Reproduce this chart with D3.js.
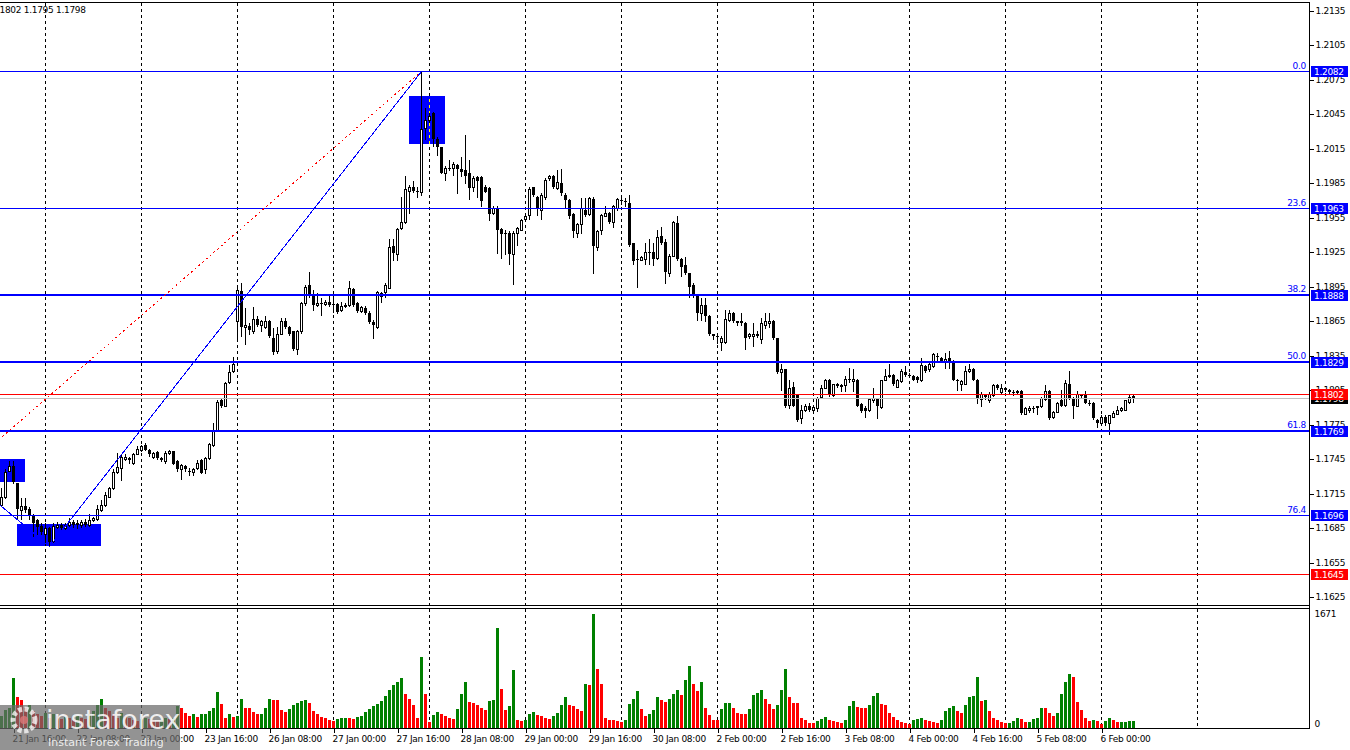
<!DOCTYPE html>
<html><head><meta charset="utf-8">
<script src="https://cdn.jsdelivr.net/npm/d3@7"></script>
<style>
html,body{margin:0;padding:0;background:#fff;overflow:hidden;}
svg{display:block;}
text{font-family:"DejaVu Sans",Verdana,sans-serif;}
</style></head><body>
<svg id="c" width="1350" height="750"></svg>
<script>
// ---------- DATA (EURUSD H1, bar index 0 = 21 Jan 13:00) ----------
const opens=[1.1705,1.1712,1.1735,1.1739,1.1724,1.1701,1.1704,1.1702,1.1696,1.1692,
1.1687,1.1680,1.1685,1.1674,1.1686,1.1688,1.1685,1.1688,1.1690,1.1689,
1.1688,1.1690,1.1688,1.1692,1.1693,1.1701,1.1705,1.1712,1.1720,1.1734,
1.1737,1.1745,1.1746,1.1742,1.1749,1.1753,1.1757,1.1753,1.1747,1.1751,
1.1746,1.1743,1.1750,1.1752,1.1743,1.1736,1.1739,1.1735,1.1734,1.1737,
1.1744,1.1736,1.1746,1.1757,1.1770,1.1796,1.1791,1.1812,1.1822,1.1865,
1.1891,1.1860,1.1861,1.1856,1.1867,1.1862,1.1860,1.1865,1.1850,1.1839,
1.1854,1.1865,1.1860,1.1856,1.1841,1.1856,1.1881,1.1896,1.1887,1.1879,
1.1881,1.1880,1.1882,1.1880,1.1880,1.1875,1.1878,1.1879,1.1893,1.1881,
1.1874,1.1876,1.1872,1.1864,1.1860,1.1889,1.1890,1.1894,1.1930,1.1923,
1.1946,1.1951,1.1978,1.1982,1.1978,1.1977,1.2033,1.2040,1.2046,1.2023,
1.2016,1.1994,1.1998,1.1998,1.2001,1.1997,1.1996,1.1994,1.1982,1.1990,
1.1990,1.1982,1.1981,1.1959,1.1963,1.1945,1.1942,1.1942,1.1923,1.1942,
1.1944,1.1954,1.1957,1.1982,1.1973,1.1962,1.1973,1.1989,1.1991,1.1981,
1.1985,1.1975,1.1970,1.1958,1.1942,1.1949,1.1962,1.1958,1.1971,1.1929,
1.1944,1.1956,1.1959,1.1951,1.1963,1.1970,1.1969,1.1968,1.1933,1.1919,
1.1918,1.1919,1.1925,1.1925,1.1920,1.1939,1.1934,1.1907,1.1922,1.1950,
1.1919,1.1914,1.1907,1.1896,1.1887,1.1872,1.1879,1.1869,1.1854,1.1852,
1.1847,1.1847,1.1866,1.1872,1.1865,1.1865,1.1863,1.1852,1.1852,1.1854,
1.1849,1.1862,1.1863,1.1865,1.1850,1.1821,1.1823,1.1792,1.1808,1.1801,
1.1781,1.1788,1.1791,1.1788,1.1789,1.1799,1.1807,1.1814,1.1801,1.1809,
1.1809,1.1809,1.1815,1.1813,1.1814,1.1793,1.1789,1.1788,1.1796,1.1797,
1.1790,1.1814,1.1817,1.1818,1.1808,1.1813,1.1821,1.1818,1.1817,1.1816,
1.1814,1.1826,1.1823,1.1826,1.1835,1.1833,1.1830,1.1833,1.1830,1.1814,
1.1810,1.1810,1.1822,1.1823,1.1814,1.1797,1.1801,1.1796,1.1801,1.1809,
1.1803,1.1807,1.1805,1.1803,1.1803,1.1804,1.1784,1.1788,1.1789,1.1790,
1.1791,1.1797,1.1804,1.1782,1.1786,1.1796,1.1792,1.1810,1.1798,1.1791,
1.1801,1.1802,1.1794,1.1794,1.1779,1.1776,1.1782,1.1776,1.1782,1.1784,
1.1788,1.1788,1.1795,1.1800];
const highs=[1.1720,1.1736,1.1743,1.1743,1.1724,1.1711,1.1711,1.1703,1.1697,1.1693,
1.1689,1.1689,1.1686,1.1689,1.1690,1.1689,1.1689,1.1694,1.1692,1.1692,
1.1692,1.1693,1.1697,1.1695,1.1705,1.1709,1.1716,1.1721,1.1736,1.1750,
1.1749,1.1749,1.1747,1.1750,1.1756,1.1757,1.1759,1.1754,1.1751,1.1752,
1.1747,1.1752,1.1753,1.1752,1.1744,1.1741,1.1740,1.1737,1.1737,1.1744,
1.1745,1.1747,1.1759,1.1776,1.1796,1.1797,1.1812,1.1827,1.1834,1.1896,
1.1898,1.1876,1.1863,1.1877,1.1869,1.1866,1.1869,1.1866,1.1859,1.1860,
1.1868,1.1868,1.1861,1.1856,1.1857,1.1882,1.1896,1.1908,1.1892,1.1889,
1.1885,1.1883,1.1888,1.1888,1.1881,1.1882,1.1881,1.1900,1.1894,1.1882,
1.1878,1.1878,1.1874,1.1866,1.1891,1.1890,1.1898,1.1936,1.1936,1.1946,
1.1973,1.1991,1.1983,1.1987,1.1982,1.2082,1.2050,1.2046,1.2047,1.2025,
1.2016,1.2000,1.2005,1.2003,1.2002,1.2008,1.2027,1.2005,1.1991,1.1991,
1.1991,1.1983,1.1982,1.1965,1.1965,1.1946,1.1944,1.1943,1.1943,1.1947,
1.1954,1.1957,1.1982,1.1982,1.1974,1.1976,1.1989,1.1992,1.1992,1.1996,
1.1997,1.1976,1.1971,1.1959,1.1950,1.1972,1.1972,1.1973,1.1973,1.1944,
1.1958,1.1965,1.1960,1.1966,1.1972,1.1972,1.1972,1.1975,1.1933,1.1927,
1.1922,1.1933,1.1936,1.1933,1.1944,1.1947,1.1936,1.1923,1.1952,1.1956,
1.1920,1.1921,1.1907,1.1898,1.1888,1.1885,1.1885,1.1870,1.1854,1.1854,
1.1852,1.1875,1.1875,1.1873,1.1865,1.1872,1.1864,1.1855,1.1863,1.1856,
1.1868,1.1872,1.1872,1.1866,1.1850,1.1828,1.1823,1.1814,1.1812,1.1802,
1.1792,1.1793,1.1794,1.1791,1.1799,1.1809,1.1815,1.1815,1.1810,1.1811,
1.1810,1.1817,1.1824,1.1823,1.1815,1.1794,1.1791,1.1798,1.1807,1.1798,
1.1814,1.1823,1.1828,1.1819,1.1815,1.1823,1.1826,1.1820,1.1818,1.1817,
1.1833,1.1827,1.1830,1.1837,1.1837,1.1834,1.1837,1.1839,1.1831,1.1815,
1.1814,1.1826,1.1828,1.1824,1.1815,1.1803,1.1802,1.1803,1.1810,1.1810,
1.1810,1.1808,1.1806,1.1805,1.1805,1.1805,1.1790,1.1791,1.1791,1.1791,
1.1799,1.1809,1.1805,1.1787,1.1795,1.1805,1.1814,1.1822,1.1799,1.1804,
1.1802,1.1804,1.1796,1.1795,1.1780,1.1783,1.1783,1.1783,1.1787,1.1791,
1.1790,1.1796,1.1801,1.1802];
const lows=[1.1704,1.1711,1.1735,1.1724,1.1693,1.1693,1.1699,1.1693,1.1678,1.1680,
1.1680,1.1670,1.1669,1.1673,1.1685,1.1683,1.1684,1.1687,1.1686,1.1685,
1.1686,1.1687,1.1687,1.1691,1.1692,1.1700,1.1704,1.1712,1.1719,1.1733,
1.1727,1.1744,1.1742,1.1741,1.1749,1.1752,1.1753,1.1748,1.1746,1.1745,
1.1743,1.1742,1.1749,1.1741,1.1735,1.1728,1.1735,1.1731,1.1731,1.1736,
1.1733,1.1733,1.1745,1.1756,1.1770,1.1790,1.1791,1.1811,1.1821,1.1849,
1.1852,1.1845,1.1854,1.1855,1.1861,1.1856,1.1859,1.1851,1.1836,1.1837,
1.1854,1.1859,1.1853,1.1840,1.1836,1.1855,1.1879,1.1886,1.1875,1.1878,
1.1870,1.1879,1.1878,1.1873,1.1872,1.1874,1.1877,1.1878,1.1878,1.1873,
1.1873,1.1871,1.1863,1.1850,1.1859,1.1882,1.1886,1.1894,1.1918,1.1918,
1.1945,1.1950,1.1959,1.1977,1.1973,1.1975,1.2023,1.2038,1.2017,1.2009,
1.1994,1.1988,1.1996,1.1992,1.1976,1.1991,1.1985,1.1971,1.1978,1.1973,
1.1965,1.1977,1.1953,1.1958,1.1924,1.1920,1.1923,1.1915,1.1897,1.1931,
1.1944,1.1953,1.1954,1.1974,1.1957,1.1954,1.1971,1.1988,1.1981,1.1980,
1.1975,1.1963,1.1955,1.1938,1.1938,1.1942,1.1956,1.1957,1.1907,1.1927,
1.1941,1.1956,1.1950,1.1947,1.1962,1.1967,1.1965,1.1930,1.1915,1.1895,
1.1918,1.1915,1.1915,1.1914,1.1919,1.1932,1.1898,1.1904,1.1922,1.1918,
1.1904,1.1906,1.1886,1.1886,1.1866,1.1866,1.1865,1.1853,1.1849,1.1846,
1.1840,1.1846,1.1865,1.1864,1.1862,1.1862,1.1841,1.1850,1.1843,1.1851,
1.1846,1.1859,1.1860,1.1849,1.1820,1.1805,1.1790,1.1789,1.1791,1.1778,
1.1776,1.1787,1.1787,1.1786,1.1787,1.1798,1.1807,1.1800,1.1800,1.1808,
1.1804,1.1804,1.1812,1.1804,1.1791,1.1786,1.1782,1.1787,1.1795,1.1781,
1.1789,1.1814,1.1816,1.1809,1.1808,1.1812,1.1817,1.1816,1.1814,1.1812,
1.1813,1.1821,1.1822,1.1825,1.1831,1.1830,1.1824,1.1824,1.1814,1.1805,
1.1805,1.1810,1.1821,1.1814,1.1794,1.1791,1.1797,1.1795,1.1800,1.1806,
1.1802,1.1804,1.1802,1.1801,1.1802,1.1784,1.1784,1.1786,1.1786,1.1784,
1.1790,1.1796,1.1780,1.1781,1.1786,1.1791,1.1791,1.1797,1.1781,1.1791,
1.1799,1.1794,1.1792,1.1780,1.1773,1.1775,1.1775,1.1767,1.1782,1.1784,
1.1787,1.1788,1.1794,1.1795];
const closes=[1.1712,1.1734,1.1739,1.1725,1.1702,1.1704,1.1701,1.1696,1.1689,1.1686,
1.1682,1.1685,1.1673,1.1687,1.1688,1.1685,1.1688,1.1690,1.1688,1.1688,
1.1690,1.1688,1.1692,1.1694,1.1702,1.1705,1.1714,1.1720,1.1734,1.1738,
1.1747,1.1747,1.1744,1.1749,1.1754,1.1756,1.1753,1.1749,1.1750,1.1746,
1.1744,1.1750,1.1752,1.1741,1.1736,1.1740,1.1736,1.1734,1.1736,1.1742,
1.1733,1.1746,1.1758,1.1770,1.1795,1.1791,1.1811,1.1821,1.1828,1.1892,
1.1860,1.1862,1.1857,1.1867,1.1862,1.1865,1.1865,1.1852,1.1838,1.1854,
1.1865,1.1860,1.1854,1.1841,1.1856,1.1881,1.1895,1.1887,1.1879,1.1881,
1.1880,1.1882,1.1879,1.1880,1.1873,1.1878,1.1879,1.1894,1.1879,1.1874,
1.1877,1.1872,1.1864,1.1862,1.1890,1.1886,1.1896,1.1929,1.1924,1.1945,
1.1951,1.1980,1.1982,1.1978,1.1977,1.2032,1.2040,1.2043,1.2023,1.2016,
1.1994,1.1998,1.1997,1.2002,1.1997,1.1995,1.1991,1.1981,1.1989,1.1987,
1.1969,1.1977,1.1958,1.1963,1.1944,1.1941,1.1941,1.1923,1.1942,1.1946,
1.1953,1.1956,1.1980,1.1975,1.1963,1.1975,1.1988,1.1991,1.1982,1.1986,
1.1976,1.1970,1.1956,1.1943,1.1949,1.1963,1.1957,1.1972,1.1930,1.1943,
1.1957,1.1959,1.1951,1.1965,1.1971,1.1969,1.1969,1.1931,1.1917,1.1919,
1.1921,1.1925,1.1924,1.1919,1.1938,1.1933,1.1908,1.1922,1.1951,1.1919,
1.1912,1.1907,1.1895,1.1888,1.1872,1.1879,1.1869,1.1854,1.1852,1.1852,
1.1850,1.1867,1.1872,1.1865,1.1863,1.1863,1.1850,1.1854,1.1854,1.1852,
1.1863,1.1865,1.1865,1.1850,1.1821,1.1823,1.1791,1.1807,1.1791,1.1779,
1.1788,1.1791,1.1788,1.1790,1.1798,1.1807,1.1814,1.1801,1.1810,1.1810,
1.1808,1.1815,1.1814,1.1815,1.1791,1.1787,1.1787,1.1797,1.1798,1.1791,
1.1814,1.1817,1.1818,1.1810,1.1814,1.1822,1.1818,1.1817,1.1814,1.1814,
1.1827,1.1822,1.1828,1.1836,1.1834,1.1830,1.1832,1.1830,1.1814,1.1814,
1.1813,1.1822,1.1823,1.1814,1.1797,1.1802,1.1799,1.1802,1.1809,1.1807,
1.1807,1.1805,1.1803,1.1803,1.1804,1.1785,1.1789,1.1789,1.1789,1.1791,
1.1798,1.1804,1.1781,1.1786,1.1794,1.1791,1.1811,1.1798,1.1791,1.1802,
1.1800,1.1794,1.1794,1.1781,1.1776,1.1782,1.1776,1.1783,1.1785,1.1788,
1.1789,1.1796,1.1799,1.1798];
const volumes=[180,260,300,730,456,407,300,330,250,200,
180,220,150,200,170,130,160,140,120,170,
140,130,200,250,330,420,300,250,200,150,
220,180,150,120,100,130,150,130,110,100,
120,140,130,150,320,300,220,175,200,160,
200,210,250,300,535,355,150,200,160,170,
420,300,290,230,200,210,290,420,415,405,
260,230,280,330,370,400,410,360,250,200,
160,140,120,100,130,140,150,140,130,160,
170,230,280,320,350,400,470,558,633,667,
730,505,420,340,150,1044,495,90,190,230,
200,170,150,130,280,505,676,374,365,340,
300,260,390,410,1466,569,260,320,848,120,
100,120,200,230,190,170,150,130,170,220,
340,460,340,320,280,250,640,625,1671,863,
642,140,120,110,100,90,110,350,420,540,
280,180,200,270,450,410,380,430,500,560,
490,710,907,650,540,680,300,190,120,110,
280,360,370,290,220,210,200,280,480,520,
555,420,350,280,340,555,863,455,370,365,
140,110,80,70,100,130,160,110,100,90,
70,120,320,400,310,300,290,330,470,510,
350,330,220,160,110,90,80,60,110,130,
150,110,100,90,80,110,250,300,320,250,
220,330,450,465,745,400,410,250,150,110,
90,70,79,104,150,125,94,94,125,150,
300,290,225,176,225,505,680,789,750,374,
260,150,104,110,104,65,104,140,120,94,
94,95,104,104];

const priceTicks=[1.2135,1.2105,1.2075,1.2045,1.2015,1.1985,1.1955,1.1925,1.1895,1.1865,
1.1835,1.1805,1.1775,1.1745,1.1715,1.1685,1.1655,1.1625];
const timeLabels=["21 Jan 16:00","22 Jan 08:00","23 Jan 00:00","23 Jan 16:00","26 Jan 08:00",
"27 Jan 00:00","27 Jan 16:00","28 Jan 08:00","29 Jan 00:00","29 Jan 16:00","30 Jan 08:00",
"2 Feb 00:00","2 Feb 16:00","3 Feb 08:00","4 Feb 00:00","4 Feb 16:00","5 Feb 08:00","6 Feb 00:00"];
const timeLabelBars=[3,19,35,51,67,83,99,115,131,147,163,179,195,211,227,243,259,275];
const dayStartBars=[11,35,59,83,107,131,155,179,203,227,251,275,299];
const fibPrices=[1.2082,1.1963,1.1888,1.1829,1.1769,1.1696];
const fibLabels=["0.0","23.6","38.2","50.0","61.8","76.4"];
const levelRed=[1.1645];
const askPrice=1.1802, bidPrice=1.1798;
const headerText="1.1802 1.1795 1.1798";
const boxBars=[[-2,5.875],[3.8,24.8],[101.9,110.9]];
const boxPrices=[[1.1745,1.1725],[1.16886,1.16695],[1.20607,1.20192]];
const fibTrendBars=[-62,105], fibTrendPrices=[1.1576,1.2082];
const zigBars=[-20,12,105], zigPrices=[1.1762,1.1669,1.2082];
const volMax=1671;

// ---------- SCALES ----------
const svg=d3.select("#c");
const plotR=1309.5;
const FONT="DejaVu Sans, Verdana, sans-serif", FS=9, LS="-0.3";
const x=d3.scaleLinear().domain([0,327]).range([1.5,1309.5]);
const y=d3.scaleLinear().domain([1.1625,1.2135]).range([597.1,10.54]);
const vy=d3.scaleLinear().domain([0,volMax]).range([728,614]);
const BLUE="#0000ff", RED="#ff0000", GREEN="#008000";
const rp=v=>Math.round(v)+0.5;

svg.append("rect").attr("width",1350).attr("height",750).attr("fill","#fff");
const defs=svg.append("defs");
defs.append("clipPath").attr("id","mainClip").append("rect").attr("x",0).attr("y",3).attr("width",1309).attr("height",602);
defs.append("clipPath").attr("id","volClip").append("rect").attr("x",0).attr("y",609).attr("width",1309).attr("height",119);
const boxClip=defs.append("clipPath").attr("id","boxClip");

const main=svg.append("g").attr("clip-path","url(#mainClip)").attr("shape-rendering","crispEdges");

const boxes=boxBars.map((b,i)=>({x0:x(b[0]),x1:x(b[1]),y0:y(boxPrices[i][0]),y1:y(boxPrices[i][1])}));
main.selectAll("rect.box").data(boxes).join("rect").attr("class","box")
 .attr("x",d=>Math.round(d.x0)).attr("y",d=>Math.round(d.y0))
 .attr("width",d=>Math.round(d.x1)-Math.round(d.x0)).attr("height",d=>Math.round(d.y1)-Math.round(d.y0))
 .attr("fill",BLUE);
boxClip.selectAll("rect").data(boxes).join("rect")
 .attr("x",d=>Math.round(d.x0)).attr("y",d=>Math.round(d.y0))
 .attr("width",d=>Math.round(d.x1)-Math.round(d.x0)).attr("height",d=>Math.round(d.y1)-Math.round(d.y0));

function grid(g,y0,y1,col){
  g.selectAll("line.g").data(dayStartBars).join("line").attr("class","g")
   .attr("x1",d=>x(d)).attr("x2",d=>x(d)).attr("y1",y0).attr("y2",y1)
   .attr("stroke",col).attr("stroke-width",1).attr("stroke-dasharray","3,3");
}
grid(main.append("g"),3,605,"#000");
grid(main.append("g").attr("clip-path","url(#boxClip)"),3,605,"#ffff00");

const bars=d3.range(opens.length).map(i=>({i,o:opens[i],h:highs[i],l:lows[i],c:closes[i]}));
const cg=main.append("g");
cg.selectAll("line.w").data(bars).join("line").attr("class","w")
 .attr("x1",d=>x(d.i)).attr("x2",d=>x(d.i))
 .attr("y1",d=>Math.round(y(d.h))).attr("y2",d=>Math.round(y(d.l))+1)
 .attr("stroke","#000");
cg.selectAll("rect.b").data(bars).join("rect").attr("class","b")
 .each(function(d){
   const t=Math.round(y(Math.max(d.o,d.c))), b=Math.round(y(Math.min(d.o,d.c)));
   const s=d3.select(this);
   if(d.c>d.o){
     s.attr("x",x(d.i)-1).attr("y",t+0.5).attr("width",2).attr("height",Math.max(b-t,1))
      .attr("fill","#fff").attr("stroke","#000").attr("stroke-width",1);
   } else {
     s.attr("x",x(d.i)-1.5).attr("y",t).attr("width",3).attr("height",Math.max(b-t,1))
      .attr("fill","#000");
   }
 });

fibPrices.forEach((p,i)=>{
  const w=(i>=2&&i<=4)?2:1;
  const yy=w===2?Math.round(y(p)):rp(y(p));
  main.append("line").attr("x1",0).attr("x2",plotR).attr("y1",yy).attr("y2",yy)
   .attr("stroke",BLUE).attr("stroke-width",w);
  svg.append("text").attr("x",1306).attr("y",yy-3).attr("text-anchor","end")
   .attr("fill",BLUE).attr("font-size",FS).attr("letter-spacing",LS).text(fibLabels[i]);
});
levelRed.forEach(p=>{
  main.append("line").attr("x1",0).attr("x2",plotR).attr("y1",rp(y(p))).attr("y2",rp(y(p)))
   .attr("stroke",RED).attr("stroke-width",1);
});
main.append("line").attr("x1",0).attr("x2",plotR).attr("y1",rp(y(bidPrice))).attr("y2",rp(y(bidPrice)))
 .attr("stroke","#c0c0c0");
main.append("line").attr("x1",0).attr("x2",plotR).attr("y1",rp(y(askPrice))).attr("y2",rp(y(askPrice)))
 .attr("stroke",RED);

const ln=d3.line().x(d=>x(d[0])).y(d=>y(d[1]));
main.append("path").attr("d",ln(fibTrendBars.map((b,i)=>[b,fibTrendPrices[i]])))
 .attr("fill","none").attr("stroke",RED).attr("stroke-width",1).attr("stroke-dasharray","2,3");
main.append("path").attr("d",ln(zigBars.map((b,i)=>[b,zigPrices[i]])))
 .attr("fill","none").attr("stroke",BLUE).attr("stroke-width",1);

const vg=svg.append("g").attr("clip-path","url(#volClip)").attr("shape-rendering","crispEdges");
grid(vg.append("g"),609,728,"#000");
vg.selectAll("rect.v").data(volumes).join("rect").attr("class","v")
 .attr("x",(d,i)=>x(i)-1.5).attr("width",3)
 .attr("y",d=>Math.round(vy(d))).attr("height",d=>728-Math.round(vy(d)))
 .attr("fill",(d,i)=>(i>0&&d<volumes[i-1])?RED:GREEN);

const fr=svg.append("g").attr("shape-rendering","crispEdges").attr("stroke","#000");
fr.append("line").attr("x1",0).attr("x2",plotR).attr("y1",2.5).attr("y2",2.5);
fr.append("line").attr("x1",0).attr("x2",plotR).attr("y1",605.5).attr("y2",605.5);
fr.append("line").attr("x1",0).attr("x2",plotR).attr("y1",608.5).attr("y2",608.5);
fr.append("line").attr("x1",plotR).attr("x2",plotR).attr("y1",2.5).attr("y2",729);

const yAxis=d3.axisRight(y).tickValues(priceTicks).tickSize(4).tickFormat(d3.format(".4f"));
const ya=svg.append("g").attr("transform",`translate(${plotR},0)`).call(yAxis);
ya.select(".domain").remove();
ya.selectAll("line").attr("stroke","#000").attr("shape-rendering","crispEdges");
ya.selectAll("text").attr("x",6).attr("font-size",FS).attr("letter-spacing",LS)
 .attr("font-family",FONT).attr("fill","#000");

const vAxis=d3.axisRight(vy).tickValues([volMax,0]).tickSize(0).tickFormat(d3.format("d"));
const va=svg.append("g").attr("transform",`translate(${plotR},0)`).call(vAxis);
va.select(".domain").remove();
va.selectAll("text").attr("x",5).attr("font-size",FS).attr("letter-spacing",LS)
 .attr("font-family",FONT).attr("fill","#000")
 .attr("dy",d=>d===0?"-0.2em":"0.32em");

const xAxis=d3.axisBottom(x).tickValues(timeLabelBars).tickSize(4).tickFormat((d,i)=>timeLabels[i]);
const xa=svg.append("g").attr("transform","translate(0,728.5)").call(xAxis);
xa.select(".domain").attr("d",`M0,0H${plotR}`).attr("stroke","#000").attr("shape-rendering","crispEdges");
xa.selectAll("line").attr("stroke","#000").attr("shape-rendering","crispEdges");
xa.selectAll("text").attr("text-anchor","start").attr("x",-1.5).attr("font-size",FS)
 .attr("letter-spacing",LS).attr("font-family",FONT).attr("fill","#000");

const tags=[];
fibPrices.forEach(p=>tags.push({p,col:BLUE}));
levelRed.forEach(p=>tags.push({p,col:RED}));
tags.push({p:bidPrice,col:"#000"});
tags.push({p:askPrice,col:RED});
const tg=svg.append("g");
tags.forEach(t=>{
  const cy=Math.round(y(t.p));
  tg.append("rect").attr("x",1311).attr("y",cy-5).attr("width",37).attr("height",11)
   .attr("fill",t.col).attr("shape-rendering","crispEdges");
  tg.append("text").attr("x",1314).attr("y",cy+4).attr("fill","#fff").attr("font-size",FS)
   .attr("letter-spacing",LS).text(d3.format(".4f")(t.p));
});

svg.append("text").attr("x",-8.5).attr("y",13).attr("font-size",FS).attr("letter-spacing",LS)
 .attr("fill","#000").text(headerText);

const lg=svg.append("g");
lg.append("rect").attr("x",0).attr("y",705).attr("width",180).attr("height",45).attr("fill","rgba(105,105,105,0.72)");
lg.append("circle").attr("cx",24).attr("cy",720).attr("r",11).attr("fill","none")
 .attr("stroke","rgba(255,255,255,0.75)").attr("stroke-width",5).attr("stroke-dasharray","4,2.5");
lg.append("circle").attr("cx",24).attr("cy",720).attr("r",4).attr("fill","rgba(220,120,120,0.8)");
lg.append("text").attr("x",46).attr("y",729).attr("font-family","Open Sans, sans-serif")
 .attr("font-size",27).attr("fill","rgba(255,255,255,0.85)").text("instaforex");
lg.append("text").attr("x",48).attr("y",746).attr("font-family","Open Sans, sans-serif")
 .attr("font-size",11).attr("fill","rgba(255,255,255,0.85)").text("Instant Forex Trading");
</script>
</body></html>
